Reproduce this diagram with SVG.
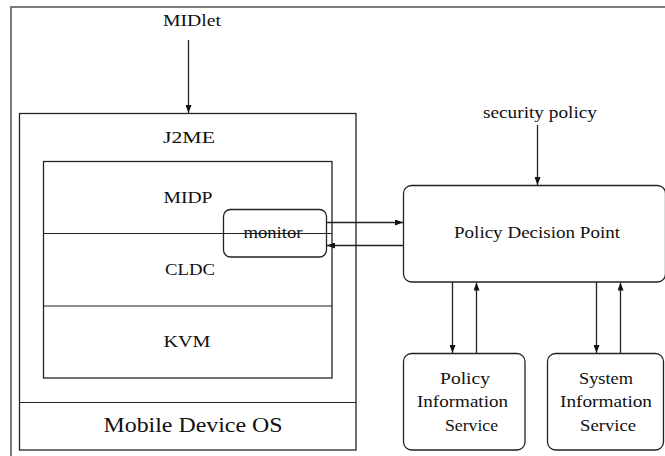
<svg xmlns="http://www.w3.org/2000/svg" width="665" height="456" viewBox="0 0 665 456">
  <defs>
    <marker id="arrow" viewBox="0 0 8 6" refX="8" refY="3" markerWidth="8" markerHeight="6" markerUnits="userSpaceOnUse" orient="auto">
      <path d="M0,0 L8,3 L0,6 Z" fill="#111"/>
    </marker>
  </defs>
  <style>
    .frame { fill: none; stroke: #7a7a7a; stroke-width: 2; }
    .box { fill: none; stroke: #222; stroke-width: 1.3; }
    .sep { fill: none; stroke: #222; stroke-width: 1.2; }
    .conn { fill: none; stroke: #222; stroke-width: 1.3; marker-end: url(#arrow); }
    .lbl { font-family: "Liberation Serif", "DejaVu Serif", "Noto Serif", Tinos, "Nimbus Roman", FreeSerif, Times, serif; fill: #111; text-anchor: middle; font-size: 17px; }
    .big { font-size: 22px; }
  </style>

  <rect width="665" height="456" fill="#fff"/>

  <!-- page frame (top and left edges) -->
  <path class="frame" d="M11,456 V7 H665"/>

  <!-- MIDlet label -->
  <g id="midlet">
    <text class="lbl" x="192" y="26" textLength="58" lengthAdjust="spacingAndGlyphs">MIDlet</text>
  </g>

  <!-- J2ME platform stack -->
  <g id="j2me">
    <rect class="box" x="19.5" y="113.5" width="336.5" height="336.5"/>
    <text class="lbl" x="189" y="143" textLength="52" lengthAdjust="spacingAndGlyphs">J2ME</text>
  </g>

  <g id="stack">
    <rect class="box" x="43.5" y="161.5" width="288.5" height="216.5"/>
    <line class="sep" x1="43.5" y1="233.5" x2="332" y2="233.5"/>
    <line class="sep" x1="43.5" y1="306" x2="332" y2="306"/>
  </g>

  <g id="midp">
    <text class="lbl" x="188" y="203" textLength="49" lengthAdjust="spacingAndGlyphs">MIDP</text>
  </g>
  <g id="cldc">
    <text class="lbl" x="190" y="275" textLength="50" lengthAdjust="spacingAndGlyphs">CLDC</text>
  </g>
  <g id="kvm">
    <text class="lbl" x="187" y="347" textLength="47" lengthAdjust="spacingAndGlyphs">KVM</text>
  </g>

  <g id="os">
    <line class="sep" x1="19.5" y1="402.5" x2="356" y2="402.5"/>
    <text class="lbl big" x="193" y="432" textLength="179" lengthAdjust="spacingAndGlyphs">Mobile Device OS</text>
  </g>

  <!-- monitor sits across the MIDP / CLDC boundary -->
  <g id="monitor">
    <rect class="box" x="223.5" y="209.5" width="103" height="47.5" rx="7" ry="7"/>
    <line class="sep" x1="223.5" y1="233.5" x2="326.5" y2="233.5"/>
    <text class="lbl" x="273" y="238" textLength="59" lengthAdjust="spacingAndGlyphs">monitor</text>
  </g>

  <!-- security policy label -->
  <g id="security-policy">
    <text class="lbl" x="540" y="118" textLength="114" lengthAdjust="spacingAndGlyphs">security policy</text>
  </g>

  <g id="pdp">
    <rect class="box" x="403.5" y="185.5" width="262" height="96.5" rx="8" ry="8"/>
    <text class="lbl" x="537" y="238" textLength="166" lengthAdjust="spacingAndGlyphs">Policy Decision Point</text>
  </g>

  <g id="pis">
    <rect class="box" x="403.5" y="353.5" width="121.5" height="96.5" rx="8" ry="8"/>
    <text class="lbl" x="465" y="384" textLength="50" lengthAdjust="spacingAndGlyphs">Policy</text>
    <text class="lbl" x="462.5" y="407" textLength="91" lengthAdjust="spacingAndGlyphs">Information</text>
    <text class="lbl" x="471.5" y="431" textLength="53" lengthAdjust="spacingAndGlyphs">Service</text>
  </g>

  <g id="sis">
    <rect class="box" x="547.5" y="353.5" width="116" height="96.5" rx="8" ry="8"/>
    <text class="lbl" x="606" y="384" textLength="54" lengthAdjust="spacingAndGlyphs">System</text>
    <text class="lbl" x="606" y="407" textLength="92" lengthAdjust="spacingAndGlyphs">Information</text>
    <text class="lbl" x="608" y="431" textLength="56" lengthAdjust="spacingAndGlyphs">Service</text>
  </g>

  <!-- connectors -->
  <g id="connectors">
    <line class="conn" x1="188.5" y1="40" x2="188.5" y2="113"/>
    <line class="conn" x1="537.5" y1="125" x2="537.5" y2="185"/>
    <line class="conn" x1="326.5" y1="222.5" x2="403" y2="222.5"/>
    <line class="conn" x1="403" y1="245.5" x2="327" y2="245.5"/>
    <line class="conn" x1="452.5" y1="282" x2="452.5" y2="353"/>
    <line class="conn" x1="476.5" y1="353" x2="476.5" y2="282.5"/>
    <line class="conn" x1="596.5" y1="282" x2="596.5" y2="353"/>
    <line class="conn" x1="620.5" y1="353" x2="620.5" y2="282.5"/>
  </g>
</svg>
